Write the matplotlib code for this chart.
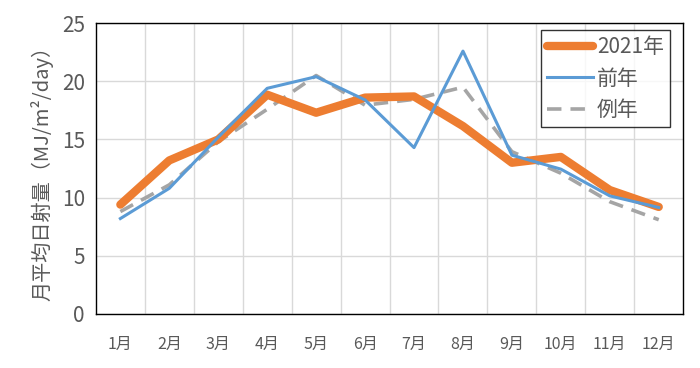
import matplotlib
matplotlib.use("Agg")
import matplotlib.pyplot as plt
import numpy as np

plt.rcParams['font.family'] = ['Noto Sans CJK JP', 'DejaVu Sans']

months = ["1月", "2月", "3月", "4月", "5月", "6月", "7月", "8月", "9月", "10月", "11月", "12月"]
y2021 = [9.4, 13.2, 15.0, 18.85, 17.3, 18.6, 18.7, 16.15, 13.0, 13.5, 10.65, 9.2]
prev_year = [8.2, 10.8, 15.2, 19.4, 20.4, 18.4, 14.3, 22.6, 13.65, 12.45, 10.15, 9.15]
normal = [8.8, 11.1, 14.8, 17.6, 20.5, 17.95, 18.45, 19.5, 13.95, 12.1, 9.65, 8.1]
yticks = [0, 5, 10, 15, 20, 25]

fig = plt.figure(figsize=(7, 3.68), dpi=100)
ax = fig.add_axes([0.137, 0.147, 0.839, 0.79])
x = np.arange(len(months))

ax.plot(x, y2021, color='#ED7D31', lw=6, solid_capstyle='round', solid_joinstyle='round', label='2021年', zorder=3)
ax.plot(x, prev_year, color='#5B9BD5', lw=2.2, label='前年', zorder=4)
ax.plot(x, normal, color='#A5A5A5', lw=2.6, dashes=(4, 2.5), label='例年', zorder=2)

ax.set_xlim(-0.5, len(months) - 0.5)
ax.set_ylim(0, 25)
ax.set_yticks(yticks)
ax.set_yticklabels([str(v) for v in yticks], fontsize=15, color='#595959')
ax.set_xticks(x)
ax.set_xticklabels(months, fontsize=11.5, color='#595959')
ax.tick_params(axis='both', length=0)
ax.tick_params(axis='x', pad=16)
ax.tick_params(axis='y', pad=8)

ax.set_xticks(np.arange(0.5, len(months) - 0.5, 1), minor=True)
ax.grid(which='minor', axis='x', color='#D9D9D9', lw=1)
ax.grid(which='major', axis='y', color='#D9D9D9', lw=1)
ax.tick_params(which='minor', length=0)
ax.set_axisbelow(True)

for s in ax.spines.values():
    s.set_color('black')
    s.set_linewidth(1)

ax.set_ylabel('月平均日射量（MJ/m²/day）', fontsize=14.5, color='#595959', labelpad=6)

leg = ax.legend(loc='upper right', bbox_to_anchor=(670/700, 1 - 30/368), bbox_transform=fig.transFigure,
                fontsize=15, frameon=True, fancybox=False, edgecolor='black', handlelength=2.2,
                borderpad=0.3, labelspacing=0.45, handletextpad=0.2, borderaxespad=0)
leg.get_frame().set_linewidth(1)
for t in leg.get_texts():
    t.set_color('#595959')

fig.savefig('out.png', dpi=100)
